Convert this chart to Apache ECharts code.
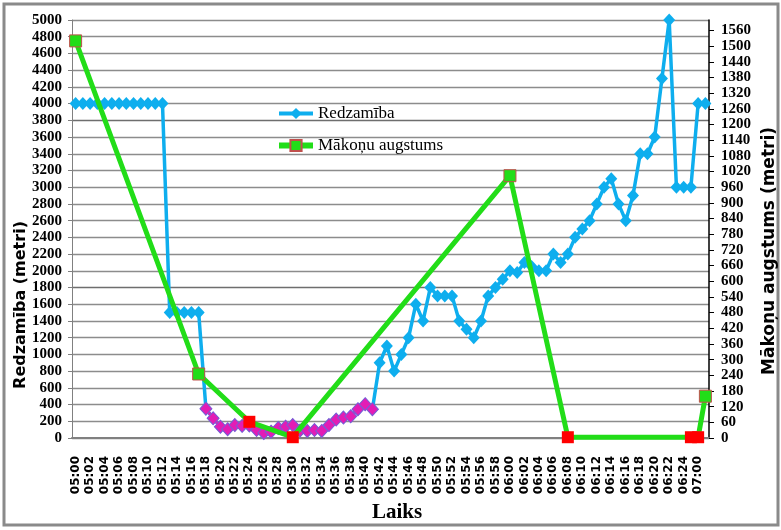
<!DOCTYPE html>
<html>
<head>
<meta charset="utf-8">
<script src="https://cdn.jsdelivr.net/npm/echarts@6/dist/echarts.min.js"></script>
<style>
  html, body { margin: 0; padding: 0; background: #fff; }
  #box { width: 781px; height: 530px; }
</style>
</head>
<body>
<div id="box"></div>
<script>
// laika kategorijas (katra minūte)
const times = [
  "05:00","05:01","05:02","05:03","05:04","05:05","05:06","05:07","05:08","05:09",
  "05:10","05:11","05:12","05:13","05:14","05:15","05:16","05:17","05:18","05:19",
  "05:20","05:21","05:22","05:23","05:24","05:25","05:26","05:27","05:28","05:29",
  "05:30","05:31","05:32","05:33","05:34","05:35","05:36","05:37","05:38","05:39",
  "05:40","05:41","05:42","05:43","05:44","05:45","05:46","05:47","05:48","05:49",
  "05:50","05:51","05:52","05:53","05:54","05:55","05:56","05:57","05:58","05:59",
  "06:00","06:01","06:02","06:03","06:04","06:05","06:06","06:07","06:08","06:09",
  "06:10","06:11","06:12","06:13","06:14","06:15","06:16","06:17","06:18","06:19",
  "06:20","06:21","06:22","06:23","06:24","06:25","07:00","07:01"
];

// redzamība (m), kreisā ass
const visibility = [
  4000, 4000, 4000, 4000, 4000, 4000, 4000, 4000, 4000, 4000,
  4000, 4000, 4000, 1500, 1500, 1500, 1500, 1500, 350, 235,
  135, 105, 155, 145, 150, 95, 60, 75, 120, 135,
  155, 90, 85, 95, 85, 155, 220, 245, 260, 345,
  405, 345, 900, 1100, 800, 1000, 1200, 1600, 1400, 1800,
  1700, 1700, 1700, 1400, 1300, 1200, 1400, 1700, 1800, 1900,
  2000, 1980, 2100, 2050, 2000, 2000, 2200, 2100, 2200, 2400,
  2500, 2600, 2800, 3000, 3100, 2800, 2600, 2900, 3400, 3400,
  3600, 4300, 5000, 3000, 3000, 3000, 4000, 4000
];

// mākoņu augstums (m), labā ass: [kategorijas indekss, vērtība]
const cloudIdx = [0, 17, 24, 30, 60, 68, 85, 86, 87];
const cloudVal = [1520, 245, 62, 3, 1004, 3, 3, 3, 160];

const leftTicks = { min: 0, max: 5000, step: 200 };
const rightTicks = { min: 0, max: 1600, step: 60 };

const chart = echarts.init(document.getElementById("box"));

const lowVis = visibility.map(v => (v < 500 ? v : null));
const cloudData = cloudIdx.map((i, k) => {
  const low = cloudVal[k] < 100;
  return {
    value: [i, cloudVal[k]],
    itemStyle: low
      ? { color: "#ff0000", borderWidth: 0 }
      : { color: "#22dd18", borderColor: "#c0504d", borderWidth: 1 }
  };
});

// režģa līnijas: katra 10. tumšāka
const gridColors = ["#8c8c8c","#8c8c8c","#8c8c8c","#8c8c8c","#8c8c8c","#8c8c8c","#8c8c8c","#8c8c8c","#8c8c8c","#6e6e6e"];

const tickFont = {
  fontFamily: "Liberation Serif", fontWeight: "bold", fontSize: 15, color: "#000",
  formatter: v => String(v)
};

const option = {
  backgroundColor: "#fff",
  animation: false,
  grid: { left: 72, right: 72, top: 20, bottom: 92 },
  legend: {
    data: [
      { name: "Redzamība", lineStyle: { width: 4 } },
      { name: "Mākoņu augstums", lineStyle: { width: 6 } }
    ],
    orient: "vertical",
    left: 276,
    top: 105,
    padding: 0,
    itemWidth: 34,
    itemHeight: 14,
    itemGap: 15,
    textStyle: { fontFamily: "Liberation Serif", fontSize: 17, color: "#000" }
  },
  xAxis: {
    type: "category",
    data: times,
    boundaryGap: true,
    axisLine: { lineStyle: { color: "#808080", width: 2 } },
    axisTick: { show: false },
    axisLabel: {
      interval: 1,
      rotate: 90,
      margin: 18,
      fontFamily: "DejaVu Sans",
      fontWeight: "bold",
      fontSize: 12,
      color: "#000"
    }
  },
  yAxis: [
    {
      type: "value",
      min: leftTicks.min,
      max: leftTicks.max,
      interval: leftTicks.step,
      axisLine: { show: true, lineStyle: { color: "#808080", width: 1 } },
      axisTick: { show: true, length: 4, lineStyle: { color: "#808080" } },
      axisLabel: Object.assign({ margin: 10 }, tickFont),
      splitLine: { lineStyle: { color: gridColors, width: 1.3 } }
    },
    {
      type: "value",
      min: rightTicks.min,
      max: rightTicks.max,
      interval: rightTicks.step,
      position: "right",
      axisLine: { show: true, lineStyle: { color: "#000", width: 1.5 } },
      axisTick: { show: true, length: 5, lineStyle: { color: "#000" } },
      axisLabel: Object.assign({ margin: 12, showMaxLabel: false }, tickFont),
      splitLine: { show: false }
    }
  ],
  series: [
    {
      name: "Redzamība",
      type: "line",
      yAxisIndex: 0,
      data: visibility,
      symbol: "diamond",
      symbolSize: [12, 13],
      showAllSymbol: true,
      lineStyle: { color: "#0eaeee", width: 3.5 },
      itemStyle: { color: "#0eaeee" },
      z: 3
    },
    {
      name: "Redzamība zema",
      type: "line",
      yAxisIndex: 0,
      data: lowVis,
      symbol: "diamond",
      symbolSize: [12, 13],
      showAllSymbol: true,
      lineStyle: { color: "#e31cb5", width: 3 },
      itemStyle: { color: "#e31cb5", borderColor: "#7a5cd6", borderWidth: 1 },
      z: 4
    },
    {
      name: "Mākoņu augstums",
      type: "line",
      yAxisIndex: 1,
      data: cloudData,
      connectNulls: true,
      symbol: "rect",
      symbolSize: 12,
      showAllSymbol: true,
      lineStyle: { color: "#22dd18", width: 5 },
      itemStyle: { color: "#22dd18", borderColor: "#c0504d", borderWidth: 1 },
      z: 5
    }
  ],
  graphic: [
    {
      type: "rect",
      shape: { x: 4, y: 4, width: 774, height: 521 },
      style: { fill: null, stroke: "#8a8a8a", lineWidth: 3 },
      silent: true
    },
    {
      type: "text",
      x: 21,
      y: 305,
      rotation: Math.PI / 2,
      style: {
        text: "Redzamība (metri)",
        fontFamily: "DejaVu Sans",
        fontWeight: "bold",
        fontSize: 16,
        fill: "#000",
        textAlign: "center",
        textVerticalAlign: "middle"
      }
    },
    {
      type: "text",
      x: 770,
      y: 251,
      rotation: Math.PI / 2,
      style: {
        text: "Mākoņu augstums (metri)",
        fontFamily: "DejaVu Sans",
        fontWeight: "bold",
        fontSize: 17,
        fill: "#000",
        textAlign: "center",
        textVerticalAlign: "middle"
      }
    },
    {
      type: "text",
      x: 397,
      y: 513,
      style: {
        text: "Laiks",
        fontFamily: "Liberation Serif",
        fontWeight: "bold",
        fontSize: 21,
        fill: "#000",
        textAlign: "center",
        textVerticalAlign: "middle"
      }
    }
  ]
};

chart.setOption(option);
</script>
</body>
</html>
